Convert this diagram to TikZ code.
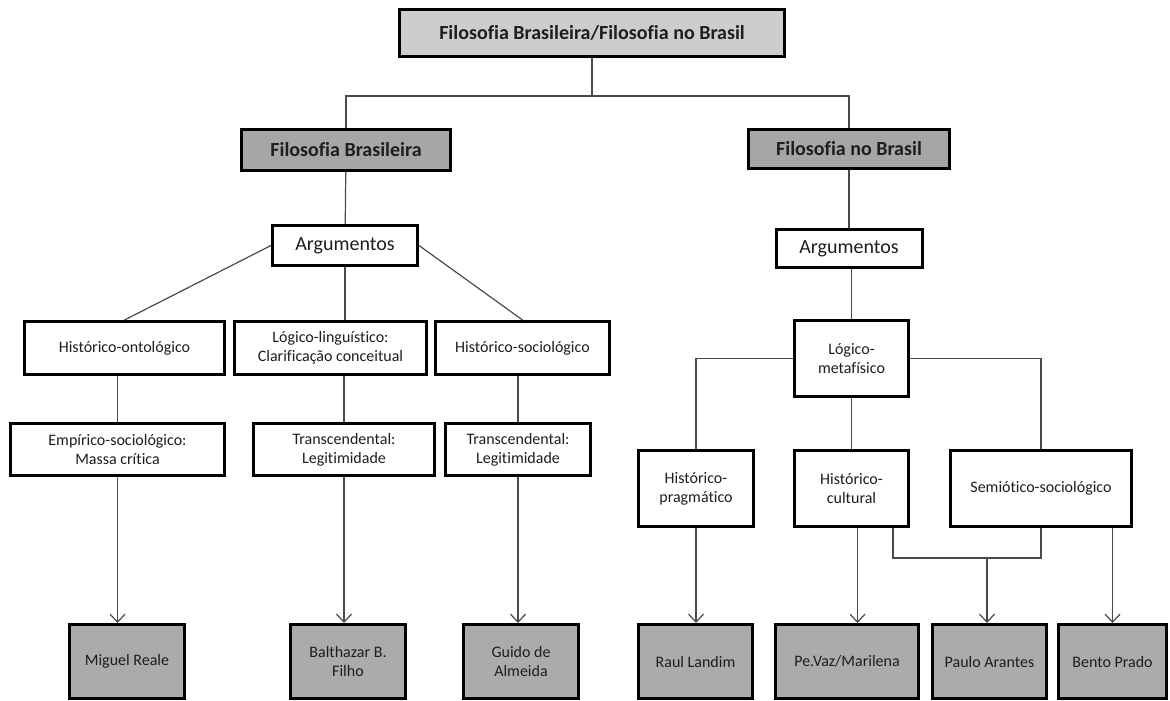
\documentclass[tikz,border=0pt]{standalone}
\usepackage{fontspec}
\setmainfont{Carlito}[Ligatures=NoCommon]
\usepackage{tikz}
\usetikzlibrary{positioning,arrows.meta}
\usepackage{xcolor}

\definecolor{topgray}{HTML}{CDCDCD}
\definecolor{headgray}{HTML}{A6A6A6}
\definecolor{namegray}{HTML}{ABABAB}
\definecolor{linkgray}{HTML}{4A4A4A}
\definecolor{inkgray}{HTML}{1E1E1E}

\begin{document}
\begin{tikzpicture}[
    x=1pt, y=-1pt,
    box/.style={
        rectangle,
        draw=black,
        line width=3pt,
        fill=white,
        text=inkgray,
        align=center,
        inner sep=2pt,
        font=\fontsize{16}{19}\selectfont
    },
    headbox/.style={
        box,
        fill=headgray,
        font=\fontsize{20}{24}\selectfont\bfseries
    },
    argbox/.style={
        box,
        font=\fontsize{20}{24}\selectfont
    },
    namebox/.style={
        box,
        fill=namegray,
        minimum height=74pt
    },
    link/.style={draw=linkgray, line width=1.2pt},
    >={Straight Barb[length=8pt,width=15pt]}
]
\useasboundingbox (0,0) rectangle (1170,701);

% topo
\node[headbox, fill=topgray, minimum width=385pt, minimum height=47pt] (root) at (592,33) {Filosofia Brasileira/Filosofia no Brasil};
\node[headbox, minimum width=209pt, minimum height=41pt] (fb) at (346,150) {Filosofia Brasileira};
\node[headbox, minimum width=201pt, minimum height=39pt] (fnb) at (849,149) {Filosofia no Brasil};

% argumentos
\node[argbox, minimum width=145pt, minimum height=40pt] (argfb) at (345,245.5) {Argumentos};
\node[argbox, minimum width=146pt, minimum height=38pt] (argfnb) at (849,248.5) {Argumentos};

% lado esquerdo
\node[box, minimum width=200pt, minimum height=53pt] (histont) at (124.5,348) {Histórico-ontológico};
\node[box, minimum width=192pt, minimum height=53pt] (logling) at (330.5,348) {Lógico-linguístico:\\Clarificação conceitual};
\node[box, minimum width=174pt, minimum height=53pt] (histsoc) at (522.5,348) {Histórico-sociológico};
\node[box, minimum width=214pt, minimum height=52pt] (empsoc) at (117.5,449.5) {Empírico-sociológico:\\Massa crítica};
\node[box, minimum width=181pt, minimum height=52pt] (transa) at (344,449.5) {Transcendental:\\Legitimidade};
\node[box, minimum width=145pt, minimum height=52pt] (transb) at (518,449.5) {Transcendental:\\Legitimidade};

% lado direito
\node[box, minimum width=114pt, minimum height=76pt] (logmet) at (851.5,358.5) {Lógico-\\metafísico};
\node[box, minimum width=115pt, minimum height=76pt] (histprag) at (696,488.5) {Histórico-\\pragmático};
\node[box, minimum width=114pt, minimum height=76pt] (histcult) at (851.5,488.5) {Histórico-\\cultural};
\node[box, minimum width=181pt, minimum height=76pt] (semsoc) at (1041,488.5) {Semiótico-sociológico};

% autores
\node[namebox, minimum width=115pt] (reale) at (127,661.5) {Miguel Reale};
\node[namebox, minimum width=115pt] (balthazar) at (348,661.5) {Balthazar B.\\Filho};
\node[namebox, minimum width=115pt] (guido) at (521,661.5) {Guido de\\Almeida};
\node[namebox, minimum width=114pt] (landim) at (695.5,661.5) {Raul Landim};
\node[namebox, minimum width=143pt] (vaz) at (847,661.5) {Pe.Vaz/Marilena};
\node[namebox, minimum width=114pt] (arantes) at (989.5,661.5) {Paulo Arantes};
\node[namebox, minimum width=108pt] (prado) at (1112.5,661.5) {Bento Prado};

\coordinate (split) at (592,96);
\coordinate (merge) at (987,558);

% ligacoes
\draw[link] (root) -- (split);
\draw[link] (split) -| (fb);
\draw[link] (split) -| (fnb);
\draw[link] (fb) -- (argfb);
\draw[link] (argfb.west) -- (histont.north);
\draw[link] (argfb.south) -- (argfb.south |- logling.north);
\draw[link] (argfb.east) -- (histsoc.north);
\draw[link] (empsoc.north |- histont.south) -- (empsoc.north);
\draw[link] (transa.north |- logling.south) -- (transa.north);
\draw[link] (transb.north |- histsoc.south) -- (transb.north);
\draw[link,->] (empsoc.south) -- (empsoc.south |- reale.north);
\draw[link,->] (transa.south) -- (transa.south |- balthazar.north);
\draw[link,->] (transb.south) -- (transb.south |- guido.north);

\draw[link] (fnb) -- (argfnb);
\draw[link] (argfnb.south -| logmet.north) -- (logmet.north);
\draw[link] (logmet.west) -| (histprag.north);
\draw[link] (logmet.east) -| (semsoc.north);
\draw[link] (logmet) -- (histcult);
\draw[link,->] (histprag.south) -- (histprag.south |- landim.north);
\draw[link,->] ([xshift=6pt]histcult.south) -- ([xshift=6pt]histcult.south |- vaz.north);
\draw[link] ([xshift=41.5pt]histcult.south) |- (merge) -| (semsoc.south);
\draw[link,->] (merge) -- (merge |- arantes.north);
\draw[link,->] (prado.north |- semsoc.south) -- (prado.north);
\end{tikzpicture}
\end{document}
